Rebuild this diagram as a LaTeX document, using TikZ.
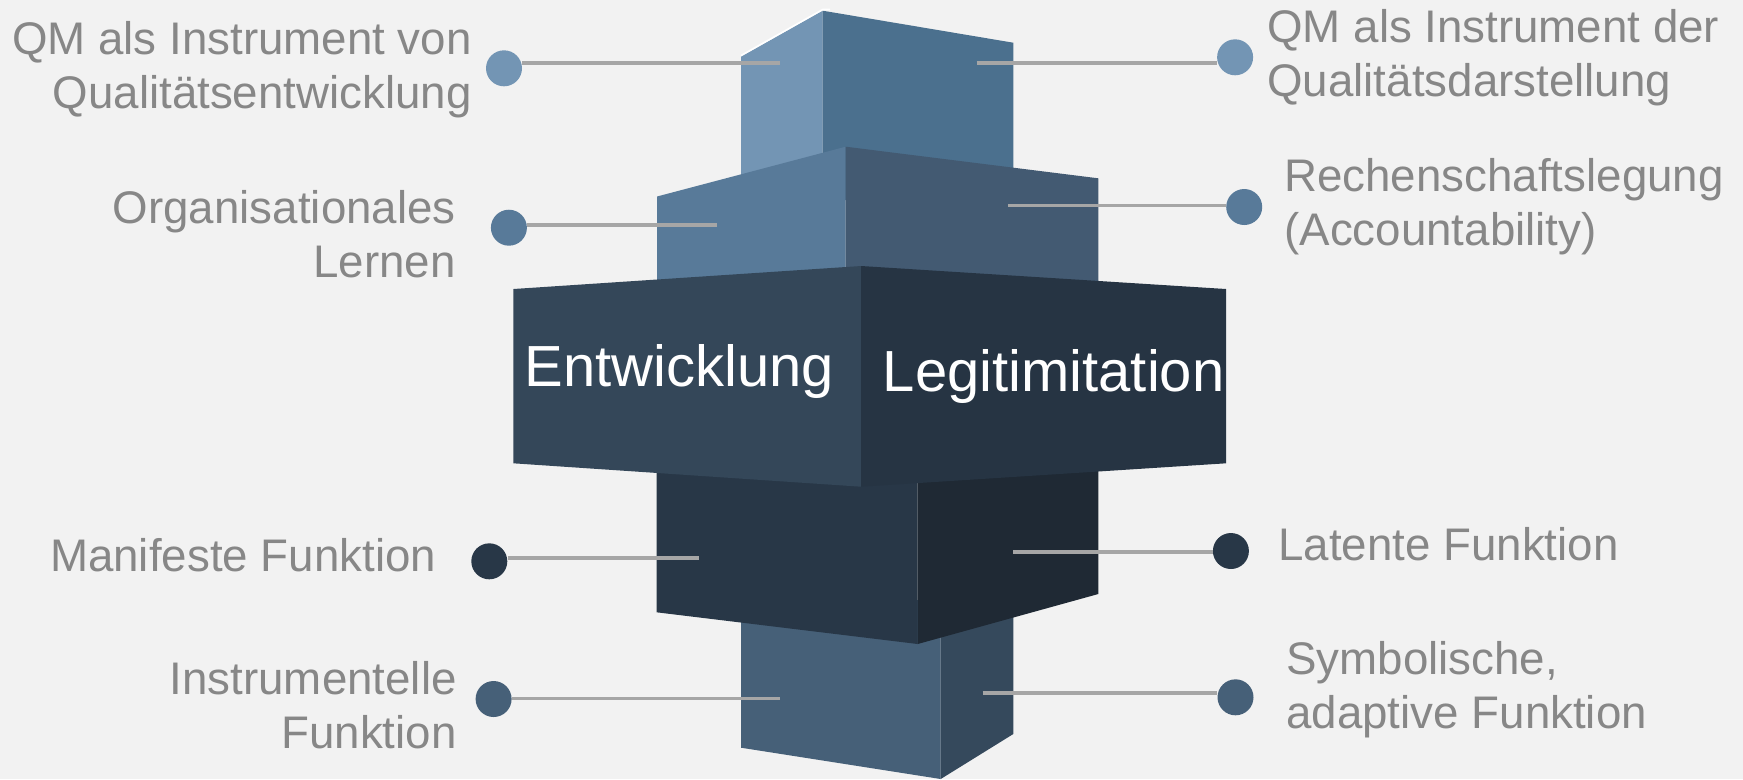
\documentclass[tikz,border=0pt]{standalone}
\usepackage{fontspec}
\setmainfont{Liberation Sans}

\definecolor{bgcol}{HTML}{F2F2F2}
\definecolor{linkgray}{HTML}{A6A6A6}
\definecolor{labelgray}{HTML}{878787}
\definecolor{topL}{HTML}{7395B4}
\definecolor{topR}{HTML}{4B708E}
\definecolor{secL}{HTML}{587A99}
\definecolor{secR}{HTML}{435A72}
\definecolor{midL}{HTML}{344759}
\definecolor{midR}{HTML}{263443}
\definecolor{lowL}{HTML}{283747}
\definecolor{lowR}{HTML}{1F2934}
\definecolor{botL}{HTML}{466078}
\definecolor{botR}{HTML}{35495C}

\tikzset{
	dot/.style={circle,inner sep=0pt,minimum size=0.72cm},
	link/.style={draw=linkgray,line width=2.2pt},
	lbl/.style={inner sep=0pt,text=labelgray,font=\fontsize{26}{30.7}\selectfont},
	bigtxt/.style={inner sep=0pt,text=white,font=\fontsize{33}{38}\selectfont},
}

\begin{document}
\begin{tikzpicture}[x=0.02cm,y=-0.02cm]
			\useasboundingbox (0,0) rectangle (1743,779);
			\fill[bgcol] (0,0) rectangle (1743,779);
			% top block
			\fill[topL] (741,56.7) -- (822.7,10.7) -- (822.7,200) -- (741,200) -- cycle;
			\fill[topR] (822.7,10.7) -- (1013.3,42.7) -- (1013.3,200) -- (822.7,200) -- cycle;
			\draw[white,line width=0.9pt] (741,55.5) -- (822.7,9.5) -- (830,9.5);
			% second block
			\fill[secL] (657,196.5) -- (845.7,146.7) -- (845.7,300) -- (657,300) -- cycle;
			\fill[secR] (845.7,146.7) -- (1098.3,178.3) -- (1098.3,300) -- (845.7,300) -- cycle;
			% bottom block
			\fill[botL] (741,600) -- (940.7,600) -- (940.7,779) -- (741,747.7) -- cycle;
			\fill[botR] (940.7,600) -- (1013.3,600) -- (1013.3,734) -- (940.7,779) -- cycle;
			% lower block
			\fill[lowL] (656.7,450) -- (917.7,450) -- (917.7,644) -- (656.7,612.3) -- cycle;
			\fill[lowR] (917.7,450) -- (1098.3,450) -- (1098.3,594) -- (917.7,644) -- cycle;
			% middle block
			\fill[midL] (513.4,289) -- (861.1,266) -- (861.1,486.7) -- (513.4,463.3) -- cycle;
			\fill[midR] (861.1,266) -- (1226,289) -- (1226,463.3) -- (861.1,486.7) -- cycle;
			\node[bigtxt,anchor=base] (ent) at (679.3,386.7) {Entwicklung};
			\node[bigtxt,anchor=base] (leg) at (1053.6,391.7) {Legitimitation};

			% line ends inside the blocks
			\coordinate (c1) at (780,62.7);
			\coordinate (c2) at (717.3,225.3);
			\coordinate (c3) at (699.3,558.2);
			\coordinate (c4) at (780,698.5);
			\coordinate (c5) at (976.7,62.8);
			\coordinate (c6) at (1008,205.5);
			\coordinate (c7) at (1013.3,551.7);
			\coordinate (c8) at (982.7,692.8);

			% dots
			\node[dot,fill=topL] (d1) at (504,68.3) {};
			\node[dot,fill=secL] (d2) at (508.9,227.7) {};
			\node[dot,fill=lowL] (d3) at (489.3,561.3) {};
			\node[dot,fill=botL] (d4) at (493.6,699) {};
			\node[dot,fill=topL] (d5) at (1235.1,57.3) {};
			\node[dot,fill=secL] (d6) at (1244.2,207) {};
			\node[dot,fill=lowL] (d7) at (1230.9,551) {};
			\node[dot,fill=botL] (d8) at (1235.5,697.3) {};

			\draw[link] (d1.east |- c1) -- (c1);
			\draw[link] (d2.east |- c2) -- (c2);
			\draw[link] (d3.east |- c3) -- (c3);
			\draw[link] (d4.east |- c4) -- (c4);
			\draw[link] (c5) -- (d5.west |- c5);
			\draw[link] (c6) -- (d6.west |- c6);
			\draw[link] (c7) -- (d7.west |- c7);
			\draw[link] (c8) -- (d8.west |- c8);

			% labels, anchored at the baseline of their last line
			\node[lbl,align=right,anchor=base east] (l1) at (472,108) {QM als Instrument von\\Qualitätsentwicklung};
			\node[lbl,align=right,anchor=base east] (l2) at (456,277.7) {Organisationales\\Lernen};
			\node[lbl,align=right,anchor=base east] (l3) at (436.4,571) {Manifeste Funktion};
			\node[lbl,align=right,anchor=base east] (l4) at (457,748.3) {Instrumentelle\\Funktion};
			\node[lbl,align=left,anchor=base west] (r1) at (1267,96.7) {QM als Instrument der\\Qualitätsdarstellung};
			\node[lbl,align=left,anchor=base west] (r2) at (1284,245) {Rechenschaftslegung\\(Accountability)};
			\node[lbl,align=left,anchor=base west] (r3) at (1278,560.7) {Latente Funktion};
			\node[lbl,align=left,anchor=base west] (r4) at (1286,728.3) {Symbolische,\\adaptive Funktion};
		\end{tikzpicture}
\end{document}
